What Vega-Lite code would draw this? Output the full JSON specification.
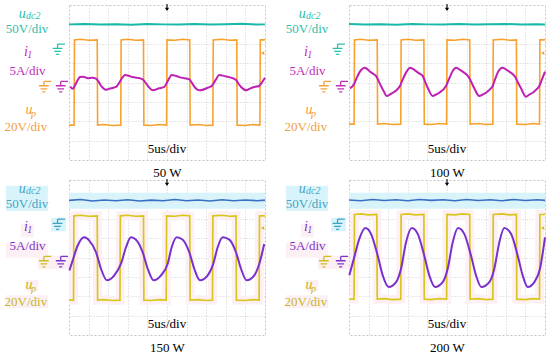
{
  "$schema": "https://vega.github.io/schema/vega-lite/v6.json",
  "padding": {"left": 4, "top": 3, "right": 2, "bottom": 2},
  "background": "white",
  "columns": 2,
  "spacing": {"row": 20, "column": 84},
  "bounds": "flush",
  "resolve": {"scale": {"x": "independent", "y": "independent"}, "axis": {"x": "independent", "y": "independent"}},
  "datasets": {
    "p1": [
      {"ch": "udc", "t": 0, "v": 3.0}, {"ch": "udc", "t": 4, "v": 3.02}, {"ch": "udc", "t": 8, "v": 2.99}, {"ch": "udc", "t": 12, "v": 3.01}, {"ch": "udc", "t": 16, "v": 2.98}, {"ch": "udc", "t": 20, "v": 3.02}, {"ch": "udc", "t": 24, "v": 3.0}, {"ch": "udc", "t": 28, "v": 2.99}, {"ch": "udc", "t": 32, "v": 3.02}, {"ch": "udc", "t": 36, "v": 2.99}, {"ch": "udc", "t": 40, "v": 3.01}, {"ch": "udc", "t": 44, "v": 3.03}, {"ch": "udc", "t": 48, "v": 2.99}, {"ch": "udc", "t": 50, "v": 3.0},
      {"ch": "up", "t": 0, "v": -2.2}, {"ch": "up", "t": 1.3, "v": -2.2}, {"ch": "up", "t": 1.4, "v": 2.2}, {"ch": "up", "t": 3, "v": 2.23}, {"ch": "up", "t": 5, "v": 2.18}, {"ch": "up", "t": 7.2, "v": 2.2}, {"ch": "up", "t": 7.3, "v": -2.2}, {"ch": "up", "t": 9, "v": -2.17}, {"ch": "up", "t": 11, "v": -2.22}, {"ch": "up", "t": 13.2, "v": -2.2}, {"ch": "up", "t": 13.3, "v": 2.2}, {"ch": "up", "t": 15, "v": 2.23}, {"ch": "up", "t": 17, "v": 2.18}, {"ch": "up", "t": 19.0, "v": 2.2}, {"ch": "up", "t": 19.1, "v": -2.2}, {"ch": "up", "t": 21, "v": -2.22}, {"ch": "up", "t": 23, "v": -2.17}, {"ch": "up", "t": 24.9, "v": -2.2}, {"ch": "up", "t": 25.0, "v": 2.2}, {"ch": "up", "t": 27, "v": 2.18}, {"ch": "up", "t": 29, "v": 2.23}, {"ch": "up", "t": 30.8, "v": 2.2}, {"ch": "up", "t": 30.9, "v": -2.2}, {"ch": "up", "t": 33, "v": -2.17}, {"ch": "up", "t": 35, "v": -2.22}, {"ch": "up", "t": 36.7, "v": -2.2}, {"ch": "up", "t": 36.8, "v": 2.2}, {"ch": "up", "t": 39, "v": 2.23}, {"ch": "up", "t": 41, "v": 2.18}, {"ch": "up", "t": 42.8, "v": 2.2}, {"ch": "up", "t": 42.9, "v": -2.2}, {"ch": "up", "t": 45, "v": -2.22}, {"ch": "up", "t": 47, "v": -2.17}, {"ch": "up", "t": 48.7, "v": -2.2}, {"ch": "up", "t": 48.8, "v": 2.2}, {"ch": "up", "t": 50, "v": 2.2},
      {"ch": "i1", "t": 0.3, "v": -0.22}, {"ch": "i1", "t": 1.0, "v": -0.32}, {"ch": "i1", "t": 1.6, "v": -0.12}, {"ch": "i1", "t": 2.2, "v": 0.12}, {"ch": "i1", "t": 2.8, "v": 0.28}, {"ch": "i1", "t": 3.6, "v": 0.3}, {"ch": "i1", "t": 4.8, "v": 0.22}, {"ch": "i1", "t": 5.9, "v": 0.25}, {"ch": "i1", "t": 6.9, "v": 0.2}, {"ch": "i1", "t": 7.6, "v": 0.02}, {"ch": "i1", "t": 8.3, "v": -0.2}, {"ch": "i1", "t": 9.4, "v": -0.37}, {"ch": "i1", "t": 10.7, "v": -0.3}, {"ch": "i1", "t": 12.0, "v": -0.23}, {"ch": "i1", "t": 12.8, "v": -0.02}, {"ch": "i1", "t": 13.6, "v": 0.25}, {"ch": "i1", "t": 14.3, "v": 0.39}, {"ch": "i1", "t": 15.2, "v": 0.35}, {"ch": "i1", "t": 16.2, "v": 0.28}, {"ch": "i1", "t": 17.5, "v": 0.24}, {"ch": "i1", "t": 18.8, "v": 0.16}, {"ch": "i1", "t": 19.5, "v": 0.0}, {"ch": "i1", "t": 20.2, "v": -0.2}, {"ch": "i1", "t": 21.4, "v": -0.4}, {"ch": "i1", "t": 23.0, "v": -0.3}, {"ch": "i1", "t": 24.3, "v": -0.23}, {"ch": "i1", "t": 25.2, "v": 0.08}, {"ch": "i1", "t": 26.2, "v": 0.39}, {"ch": "i1", "t": 27.3, "v": 0.34}, {"ch": "i1", "t": 28.6, "v": 0.25}, {"ch": "i1", "t": 30.7, "v": 0.16}, {"ch": "i1", "t": 31.3, "v": 0.0}, {"ch": "i1", "t": 32.0, "v": -0.22}, {"ch": "i1", "t": 33.4, "v": -0.4}, {"ch": "i1", "t": 35.4, "v": -0.27}, {"ch": "i1", "t": 36.4, "v": -0.18}, {"ch": "i1", "t": 37.5, "v": 0.16}, {"ch": "i1", "t": 38.3, "v": 0.39}, {"ch": "i1", "t": 39.7, "v": 0.33}, {"ch": "i1", "t": 41.3, "v": 0.25}, {"ch": "i1", "t": 42.6, "v": 0.13}, {"ch": "i1", "t": 43.2, "v": -0.05}, {"ch": "i1", "t": 43.9, "v": -0.23}, {"ch": "i1", "t": 45.2, "v": -0.4}, {"ch": "i1", "t": 46.3, "v": -0.3}, {"ch": "i1", "t": 47.3, "v": -0.23}, {"ch": "i1", "t": 48.5, "v": -0.18}, {"ch": "i1", "t": 49.2, "v": 0.0}, {"ch": "i1", "t": 50, "v": 0.25}
    ],
    "p2": [
      {"ch": "udc", "t": 0, "v": 3.02}, {"ch": "udc", "t": 4, "v": 2.99}, {"ch": "udc", "t": 8, "v": 3.01}, {"ch": "udc", "t": 12, "v": 2.98}, {"ch": "udc", "t": 16, "v": 3.02}, {"ch": "udc", "t": 20, "v": 3.0}, {"ch": "udc", "t": 24, "v": 2.99}, {"ch": "udc", "t": 28, "v": 3.02}, {"ch": "udc", "t": 32, "v": 2.99}, {"ch": "udc", "t": 36, "v": 3.01}, {"ch": "udc", "t": 40, "v": 3.02}, {"ch": "udc", "t": 44, "v": 2.99}, {"ch": "udc", "t": 48, "v": 3.01}, {"ch": "udc", "t": 50, "v": 2.99},
      {"ch": "up", "t": 0, "v": -2.15}, {"ch": "up", "t": 1.3, "v": -2.15}, {"ch": "up", "t": 1.4, "v": 2.2}, {"ch": "up", "t": 3, "v": 2.23}, {"ch": "up", "t": 5, "v": 2.18}, {"ch": "up", "t": 7.2, "v": 2.2}, {"ch": "up", "t": 7.3, "v": -2.15}, {"ch": "up", "t": 9, "v": -2.12}, {"ch": "up", "t": 11, "v": -2.17}, {"ch": "up", "t": 13.2, "v": -2.15}, {"ch": "up", "t": 13.3, "v": 2.2}, {"ch": "up", "t": 15, "v": 2.23}, {"ch": "up", "t": 17, "v": 2.18}, {"ch": "up", "t": 19.1, "v": 2.2}, {"ch": "up", "t": 19.2, "v": -2.15}, {"ch": "up", "t": 21, "v": -2.17}, {"ch": "up", "t": 23, "v": -2.12}, {"ch": "up", "t": 24.9, "v": -2.15}, {"ch": "up", "t": 25.0, "v": 2.2}, {"ch": "up", "t": 27, "v": 2.18}, {"ch": "up", "t": 29, "v": 2.23}, {"ch": "up", "t": 30.8, "v": 2.2}, {"ch": "up", "t": 30.9, "v": -2.15}, {"ch": "up", "t": 33, "v": -2.12}, {"ch": "up", "t": 35, "v": -2.17}, {"ch": "up", "t": 36.7, "v": -2.15}, {"ch": "up", "t": 36.8, "v": 2.2}, {"ch": "up", "t": 39, "v": 2.23}, {"ch": "up", "t": 41, "v": 2.18}, {"ch": "up", "t": 42.7, "v": 2.2}, {"ch": "up", "t": 42.8, "v": -2.15}, {"ch": "up", "t": 45, "v": -2.17}, {"ch": "up", "t": 47, "v": -2.12}, {"ch": "up", "t": 48.6, "v": -2.15}, {"ch": "up", "t": 48.7, "v": 2.2}, {"ch": "up", "t": 50, "v": 2.2},
      {"ch": "i1", "t": 0.26, "v": -0.3}, {"ch": "i1", "t": 1.35, "v": -0.06}, {"ch": "i1", "t": 2.0, "v": 0.25}, {"ch": "i1", "t": 2.63, "v": 0.51}, {"ch": "i1", "t": 3.3, "v": 0.68}, {"ch": "i1", "t": 3.9, "v": 0.76}, {"ch": "i1", "t": 4.6, "v": 0.7}, {"ch": "i1", "t": 5.18, "v": 0.59}, {"ch": "i1", "t": 6.0, "v": 0.47}, {"ch": "i1", "t": 6.89, "v": 0.34}, {"ch": "i1", "t": 7.5, "v": 0.1}, {"ch": "i1", "t": 8.16, "v": -0.18}, {"ch": "i1", "t": 8.9, "v": -0.47}, {"ch": "i1", "t": 9.62, "v": -0.7}, {"ch": "i1", "t": 10.4, "v": -0.63}, {"ch": "i1", "t": 11.15, "v": -0.53}, {"ch": "i1", "t": 12.1, "v": -0.4}, {"ch": "i1", "t": 13.0, "v": -0.18}, {"ch": "i1", "t": 13.8, "v": 0.2}, {"ch": "i1", "t": 14.54, "v": 0.51}, {"ch": "i1", "t": 15.64, "v": 0.76}, {"ch": "i1", "t": 16.3, "v": 0.7}, {"ch": "i1", "t": 17.09, "v": 0.59}, {"ch": "i1", "t": 18.0, "v": 0.46}, {"ch": "i1", "t": 18.8, "v": 0.34}, {"ch": "i1", "t": 19.4, "v": 0.05}, {"ch": "i1", "t": 20.08, "v": -0.27}, {"ch": "i1", "t": 21.35, "v": -0.7}, {"ch": "i1", "t": 22.2, "v": -0.62}, {"ch": "i1", "t": 23.04, "v": -0.53}, {"ch": "i1", "t": 24.74, "v": -0.18}, {"ch": "i1", "t": 25.6, "v": 0.22}, {"ch": "i1", "t": 26.45, "v": 0.59}, {"ch": "i1", "t": 27.3, "v": 0.76}, {"ch": "i1", "t": 28.1, "v": 0.68}, {"ch": "i1", "t": 29.0, "v": 0.56}, {"ch": "i1", "t": 30.54, "v": 0.28}, {"ch": "i1", "t": 31.2, "v": 0.02}, {"ch": "i1", "t": 31.96, "v": -0.3}, {"ch": "i1", "t": 33.24, "v": -0.7}, {"ch": "i1", "t": 34.1, "v": -0.62}, {"ch": "i1", "t": 34.95, "v": -0.53}, {"ch": "i1", "t": 35.8, "v": -0.38}, {"ch": "i1", "t": 36.66, "v": -0.18}, {"ch": "i1", "t": 37.3, "v": 0.18}, {"ch": "i1", "t": 37.93, "v": 0.51}, {"ch": "i1", "t": 39.2, "v": 0.76}, {"ch": "i1", "t": 40.0, "v": 0.68}, {"ch": "i1", "t": 40.9, "v": 0.56}, {"ch": "i1", "t": 42.42, "v": 0.28}, {"ch": "i1", "t": 43.1, "v": 0.0}, {"ch": "i1", "t": 43.88, "v": -0.3}, {"ch": "i1", "t": 45.15, "v": -0.73}, {"ch": "i1", "t": 46.0, "v": -0.62}, {"ch": "i1", "t": 46.86, "v": -0.53}, {"ch": "i1", "t": 47.7, "v": -0.38}, {"ch": "i1", "t": 48.55, "v": -0.18}, {"ch": "i1", "t": 49.3, "v": 0.2}, {"ch": "i1", "t": 50, "v": 0.56}
    ],
    "p3": [
      {"ch": "udc", "t": 0, "v": 2.95}, {"ch": "udc", "t": 3, "v": 2.99}, {"ch": "udc", "t": 6, "v": 2.92}, {"ch": "udc", "t": 9, "v": 2.97}, {"ch": "udc", "t": 12, "v": 2.93}, {"ch": "udc", "t": 15, "v": 2.98}, {"ch": "udc", "t": 18, "v": 2.92}, {"ch": "udc", "t": 21, "v": 2.96}, {"ch": "udc", "t": 24, "v": 2.93}, {"ch": "udc", "t": 27, "v": 2.99}, {"ch": "udc", "t": 30, "v": 2.93}, {"ch": "udc", "t": 33, "v": 2.97}, {"ch": "udc", "t": 36, "v": 2.92}, {"ch": "udc", "t": 39, "v": 2.98}, {"ch": "udc", "t": 42, "v": 2.93}, {"ch": "udc", "t": 45, "v": 2.97}, {"ch": "udc", "t": 48, "v": 2.93}, {"ch": "udc", "t": 50, "v": 2.96},
      {"ch": "up", "t": 0, "v": -2.2}, {"ch": "up", "t": 1.15, "v": -2.2}, {"ch": "up", "t": 1.25, "v": 2.15}, {"ch": "up", "t": 3, "v": 2.18}, {"ch": "up", "t": 5, "v": 2.13}, {"ch": "up", "t": 7.2, "v": 2.15}, {"ch": "up", "t": 7.3, "v": -2.2}, {"ch": "up", "t": 9, "v": -2.17}, {"ch": "up", "t": 11, "v": -2.22}, {"ch": "up", "t": 13.0, "v": -2.2}, {"ch": "up", "t": 13.1, "v": 2.15}, {"ch": "up", "t": 15, "v": 2.18}, {"ch": "up", "t": 17, "v": 2.13}, {"ch": "up", "t": 19.0, "v": 2.15}, {"ch": "up", "t": 19.1, "v": -2.2}, {"ch": "up", "t": 21, "v": -2.22}, {"ch": "up", "t": 23, "v": -2.17}, {"ch": "up", "t": 24.8, "v": -2.2}, {"ch": "up", "t": 24.9, "v": 2.15}, {"ch": "up", "t": 27, "v": 2.13}, {"ch": "up", "t": 29, "v": 2.18}, {"ch": "up", "t": 30.8, "v": 2.15}, {"ch": "up", "t": 30.9, "v": -2.2}, {"ch": "up", "t": 33, "v": -2.17}, {"ch": "up", "t": 35, "v": -2.22}, {"ch": "up", "t": 36.6, "v": -2.2}, {"ch": "up", "t": 36.7, "v": 2.15}, {"ch": "up", "t": 39, "v": 2.18}, {"ch": "up", "t": 41, "v": 2.13}, {"ch": "up", "t": 42.6, "v": 2.15}, {"ch": "up", "t": 42.7, "v": -2.2}, {"ch": "up", "t": 45, "v": -2.22}, {"ch": "up", "t": 47, "v": -2.17}, {"ch": "up", "t": 48.5, "v": -2.2}, {"ch": "up", "t": 48.6, "v": 2.15}, {"ch": "up", "t": 50, "v": 2.15},
      {"ch": "i1", "t": 0.1, "v": -0.67}, {"ch": "i1", "t": 0.94, "v": -0.15}, {"ch": "i1", "t": 2.22, "v": 0.62}, {"ch": "i1", "t": 3.9, "v": 1.04}, {"ch": "i1", "t": 5.18, "v": 0.87}, {"ch": "i1", "t": 6.89, "v": 0.27}, {"ch": "i1", "t": 8.16, "v": -0.58}, {"ch": "i1", "t": 9.69, "v": -1.18}, {"ch": "i1", "t": 11.56, "v": -0.92}, {"ch": "i1", "t": 13.27, "v": -0.32}, {"ch": "i1", "t": 14.54, "v": 0.53}, {"ch": "i1", "t": 15.82, "v": 1.04}, {"ch": "i1", "t": 17.09, "v": 0.92}, {"ch": "i1", "t": 18.8, "v": 0.27}, {"ch": "i1", "t": 20.08, "v": -0.58}, {"ch": "i1", "t": 21.6, "v": -1.18}, {"ch": "i1", "t": 23.47, "v": -0.92}, {"ch": "i1", "t": 25.18, "v": -0.32}, {"ch": "i1", "t": 26.2, "v": 0.53}, {"ch": "i1", "t": 27.47, "v": 1.04}, {"ch": "i1", "t": 29.0, "v": 0.92}, {"ch": "i1", "t": 30.69, "v": 0.27}, {"ch": "i1", "t": 31.96, "v": -0.58}, {"ch": "i1", "t": 33.42, "v": -1.18}, {"ch": "i1", "t": 35.38, "v": -0.92}, {"ch": "i1", "t": 36.81, "v": -0.32}, {"ch": "i1", "t": 37.93, "v": 0.53}, {"ch": "i1", "t": 39.2, "v": 1.04}, {"ch": "i1", "t": 40.9, "v": 0.92}, {"ch": "i1", "t": 42.6, "v": 0.27}, {"ch": "i1", "t": 43.88, "v": -0.58}, {"ch": "i1", "t": 45.33, "v": -1.18}, {"ch": "i1", "t": 47.27, "v": -0.92}, {"ch": "i1", "t": 48.55, "v": -0.32}, {"ch": "i1", "t": 49.8, "v": 0.7}
    ],
    "p4": [
      {"ch": "udc", "t": 0, "v": 2.97}, {"ch": "udc", "t": 3, "v": 2.93}, {"ch": "udc", "t": 6, "v": 2.99}, {"ch": "udc", "t": 9, "v": 2.94}, {"ch": "udc", "t": 12, "v": 2.98}, {"ch": "udc", "t": 15, "v": 2.93}, {"ch": "udc", "t": 18, "v": 2.99}, {"ch": "udc", "t": 21, "v": 2.95}, {"ch": "udc", "t": 24, "v": 2.98}, {"ch": "udc", "t": 27, "v": 2.93}, {"ch": "udc", "t": 30, "v": 2.99}, {"ch": "udc", "t": 33, "v": 2.94}, {"ch": "udc", "t": 36, "v": 2.98}, {"ch": "udc", "t": 39, "v": 2.93}, {"ch": "udc", "t": 42, "v": 2.99}, {"ch": "udc", "t": 45, "v": 2.94}, {"ch": "udc", "t": 48, "v": 2.98}, {"ch": "udc", "t": 50, "v": 2.95},
      {"ch": "up", "t": 0, "v": -2.15}, {"ch": "up", "t": 1.3, "v": -2.15}, {"ch": "up", "t": 1.4, "v": 2.22}, {"ch": "up", "t": 3, "v": 2.25}, {"ch": "up", "t": 5, "v": 2.2}, {"ch": "up", "t": 7.1, "v": 2.22}, {"ch": "up", "t": 7.2, "v": -2.15}, {"ch": "up", "t": 9, "v": -2.12}, {"ch": "up", "t": 11, "v": -2.17}, {"ch": "up", "t": 13.2, "v": -2.15}, {"ch": "up", "t": 13.3, "v": 2.22}, {"ch": "up", "t": 15, "v": 2.25}, {"ch": "up", "t": 17, "v": 2.2}, {"ch": "up", "t": 19.1, "v": 2.22}, {"ch": "up", "t": 19.2, "v": -2.15}, {"ch": "up", "t": 21, "v": -2.17}, {"ch": "up", "t": 23, "v": -2.12}, {"ch": "up", "t": 24.9, "v": -2.15}, {"ch": "up", "t": 25.0, "v": 2.22}, {"ch": "up", "t": 27, "v": 2.2}, {"ch": "up", "t": 29, "v": 2.25}, {"ch": "up", "t": 30.8, "v": 2.22}, {"ch": "up", "t": 30.9, "v": -2.15}, {"ch": "up", "t": 33, "v": -2.12}, {"ch": "up", "t": 35, "v": -2.17}, {"ch": "up", "t": 36.7, "v": -2.15}, {"ch": "up", "t": 36.8, "v": 2.22}, {"ch": "up", "t": 39, "v": 2.25}, {"ch": "up", "t": 41, "v": 2.2}, {"ch": "up", "t": 42.7, "v": 2.22}, {"ch": "up", "t": 42.8, "v": -2.15}, {"ch": "up", "t": 45, "v": -2.17}, {"ch": "up", "t": 47, "v": -2.12}, {"ch": "up", "t": 48.6, "v": -2.15}, {"ch": "up", "t": 48.7, "v": 2.22}, {"ch": "up", "t": 50, "v": 2.22},
      {"ch": "i1", "t": 0.08, "v": -0.92}, {"ch": "i1", "t": 1.35, "v": 0.02}, {"ch": "i1", "t": 2.63, "v": 0.96}, {"ch": "i1", "t": 4.16, "v": 1.52}, {"ch": "i1", "t": 5.61, "v": 1.22}, {"ch": "i1", "t": 7.32, "v": 0.1}, {"ch": "i1", "t": 8.6, "v": -0.92}, {"ch": "i1", "t": 10.13, "v": -1.52}, {"ch": "i1", "t": 12.0, "v": -1.27}, {"ch": "i1", "t": 13.27, "v": -0.58}, {"ch": "i1", "t": 14.54, "v": 0.78}, {"ch": "i1", "t": 16.0, "v": 1.52}, {"ch": "i1", "t": 17.53, "v": 1.22}, {"ch": "i1", "t": 19.2, "v": 0.1}, {"ch": "i1", "t": 20.48, "v": -0.92}, {"ch": "i1", "t": 21.94, "v": -1.52}, {"ch": "i1", "t": 23.9, "v": -1.27}, {"ch": "i1", "t": 25.18, "v": -0.58}, {"ch": "i1", "t": 26.45, "v": 0.78}, {"ch": "i1", "t": 27.8, "v": 1.52}, {"ch": "i1", "t": 29.4, "v": 1.22}, {"ch": "i1", "t": 31.12, "v": 0.1}, {"ch": "i1", "t": 32.4, "v": -0.92}, {"ch": "i1", "t": 33.75, "v": -1.52}, {"ch": "i1", "t": 35.8, "v": -1.27}, {"ch": "i1", "t": 37.07, "v": -0.58}, {"ch": "i1", "t": 38.34, "v": 0.78}, {"ch": "i1", "t": 39.62, "v": 1.52}, {"ch": "i1", "t": 41.33, "v": 1.22}, {"ch": "i1", "t": 43.03, "v": 0.1}, {"ch": "i1", "t": 44.3, "v": -0.92}, {"ch": "i1", "t": 45.59, "v": -1.52}, {"ch": "i1", "t": 47.27, "v": -1.27}, {"ch": "i1", "t": 48.72, "v": -0.58}, {"ch": "i1", "t": 50, "v": 1.04}
    ],
    "lbl_main": [
      {"ch": "udc", "t": -10.7, "v": 2.78, "txt": "50V/div"},
      {"ch": "i1", "t": -10.6, "v": 0.57, "txt": "5A/div"},
      {"ch": "up", "t": -11.0, "v": -2.32, "txt": "20V/div"},
      {"ch": "k", "t": 25, "v": -3.43, "txt": "5us/div"}
    ],
    "lbl_it": [
      {"ch": "udc", "t": -11.9, "v": 3.56, "txt": "u"},
      {"ch": "i1", "t": -11.0, "v": 1.55, "txt": "i"},
      {"ch": "up", "t": -10.2, "v": -1.42, "txt": "u"}
    ],
    "lbl_sub": [
      {"ch": "udc", "t": -9.1, "v": 3.42, "txt": "dc2"},
      {"ch": "i1", "t": -10.0, "v": 1.43, "txt": "1"},
      {"ch": "up", "t": -9.05, "v": -1.6, "txt": "p"}
    ],
    "gnd": [
      {"ch": "udc", "t": -2.6, "v": 1.7},
      {"ch": "up", "t": -6.1, "v": -0.23},
      {"ch": "i1", "t": -1.8, "v": -0.23}
    ],
    "trig": [{"ch": "k", "t": 25, "v": 3.87}],
    "lvl": [{"ch": "up", "t": 49.4, "v": 1.52}],
    "hl": [
      {"ch": "cy", "t": 0, "t2": 50, "v": 2.52, "v2": 3.34},
      {"ch": "cy", "t": -16.1, "t2": -5.4, "v": 2.4, "v2": 3.7},
      {"ch": "cy", "t": -4.6, "t2": -0.8, "v": 1.35, "v2": 2.05},
      {"ch": "pk", "t": -12.3, "t2": -9.0, "v": 1.05, "v2": 1.75},
      {"ch": "pk", "t": -16.1, "t2": -5.4, "v": 0.0, "v2": 0.75},
      {"ch": "pk", "t": -7.9, "t2": 0, "v": -0.6, "v2": 0.1},
      {"ch": "pk", "t": -11.2, "t2": -7.8, "v": -1.75, "v2": -1.15},
      {"ch": "pk", "t": -16.1, "t2": -5.4, "v": -2.6, "v2": -1.95}
    ]
  },
  "concat": [
    {
      "width": 196, "height": 155,
      "encoding": {
        "x": {"field": "t", "type": "quantitative", "title": "50 W", "scale": {"domain": [0, 50], "nice": false, "zero": false}, "axis": {"values": [5, 10, 15, 20, 25, 30, 35, 40, 45]}},
        "y": {"field": "v", "type": "quantitative", "title": null, "scale": {"domain": [-4, 4], "nice": false, "zero": false}, "axis": {"values": [-3, -2, -1, 0, 1, 2, 3]}}
      },
      "layer": [
        {"data": {"name": "p1"}, "transform": [{"filter": "datum.ch == 'up'"}], "mark": {"type": "line", "color": "#f7a22e", "strokeWidth": 1.6}, "encoding": {}},
        {"data": {"name": "p1"}, "transform": [{"filter": "datum.ch == 'udc'"}], "mark": {"type": "line", "color": "#18b9a8", "strokeWidth": 2}, "encoding": {}},
        {"data": {"name": "p1"}, "transform": [{"filter": "datum.ch == 'i1'"}], "mark": {"type": "line", "color": "#bf1fb4", "strokeWidth": 2, "interpolate": "monotone"}, "encoding": {}},
        {"data": {"name": "gnd"}, "mark": {"type": "point", "shape": "M-0.2,-0.9 L1,-0.9 M-0.2,-0.9 L-0.2,-0.2 M-1,-0.2 L0.6,-0.2 M-0.75,0.3 L0.35,0.3 M-0.45,0.8 L0.05,0.8", "filled": false, "strokeWidth": 1.3, "size": 150, "opacity": 1},
          "encoding": {"color": {"condition": [{"test": "datum.ch == 'udc'", "value": "#2dbfad"}, {"test": "datum.ch == 'i1'", "value": "#c22bb7"}, {"test": "datum.ch == 'up'", "value": "#f2a03c"}], "value": "#000000"}}},
        {"data": {"name": "trig"}, "mark": {"type": "point", "shape": "M-0.15,-1 L0.15,-1 L0.15,0.1 L0.6,0.1 L0,1 L-0.6,0.1 L-0.15,0.1 Z", "filled": true, "color": "#000000", "size": 50, "opacity": 1}, "encoding": {}},
        {"data": {"name": "lvl"}, "mark": {"type": "point", "shape": "triangle-left", "filled": true, "color": "#f2a03c", "size": 14, "opacity": 1}, "encoding": {}},
        {"data": {"name": "lbl_main"}, "mark": {"type": "text", "font": "Liberation Serif", "fontSize": 13, "align": "center", "baseline": "middle"},
          "encoding": {"text": {"field": "txt"}, "color": {"condition": [{"test": "datum.ch == 'udc'", "value": "#2dbfad"}, {"test": "datum.ch == 'i1'", "value": "#c22bb7"}, {"test": "datum.ch == 'up'", "value": "#f2a03c"}], "value": "#000000"}}},
        {"data": {"name": "lbl_it"}, "mark": {"type": "text", "font": "Liberation Serif", "fontSize": 14, "fontStyle": "italic", "align": "center", "baseline": "middle"},
          "encoding": {"text": {"field": "txt"}, "color": {"condition": [{"test": "datum.ch == 'udc'", "value": "#2dbfad"}, {"test": "datum.ch == 'i1'", "value": "#c22bb7"}, {"test": "datum.ch == 'up'", "value": "#f2a03c"}], "value": "#000000"}}},
        {"data": {"name": "lbl_sub"}, "mark": {"type": "text", "font": "Liberation Serif", "fontSize": 10, "fontStyle": "italic", "align": "center", "baseline": "middle"},
          "encoding": {"text": {"field": "txt"}, "color": {"condition": [{"test": "datum.ch == 'udc'", "value": "#2dbfad"}, {"test": "datum.ch == 'i1'", "value": "#c22bb7"}, {"test": "datum.ch == 'up'", "value": "#f2a03c"}], "value": "#000000"}}}
      ]
    },
    {
      "width": 196, "height": 155,
      "encoding": {
        "x": {"field": "t", "type": "quantitative", "title": "100 W", "scale": {"domain": [0, 50], "nice": false, "zero": false}, "axis": {"values": [5, 10, 15, 20, 25, 30, 35, 40, 45]}},
        "y": {"field": "v", "type": "quantitative", "title": null, "scale": {"domain": [-4, 4], "nice": false, "zero": false}, "axis": {"values": [-3, -2, -1, 0, 1, 2, 3]}}
      },
      "layer": [
        {"data": {"name": "p2"}, "transform": [{"filter": "datum.ch == 'up'"}], "mark": {"type": "line", "color": "#f7a22e", "strokeWidth": 1.6}, "encoding": {}},
        {"data": {"name": "p2"}, "transform": [{"filter": "datum.ch == 'udc'"}], "mark": {"type": "line", "color": "#18b9a8", "strokeWidth": 2}, "encoding": {}},
        {"data": {"name": "p2"}, "transform": [{"filter": "datum.ch == 'i1'"}], "mark": {"type": "line", "color": "#bf1fb4", "strokeWidth": 2, "interpolate": "monotone"}, "encoding": {}},
        {"data": {"name": "gnd"}, "mark": {"type": "point", "shape": "M-0.2,-0.9 L1,-0.9 M-0.2,-0.9 L-0.2,-0.2 M-1,-0.2 L0.6,-0.2 M-0.75,0.3 L0.35,0.3 M-0.45,0.8 L0.05,0.8", "filled": false, "strokeWidth": 1.3, "size": 150, "opacity": 1},
          "encoding": {"color": {"condition": [{"test": "datum.ch == 'udc'", "value": "#2dbfad"}, {"test": "datum.ch == 'i1'", "value": "#c22bb7"}, {"test": "datum.ch == 'up'", "value": "#f2a03c"}], "value": "#000000"}}},
        {"data": {"name": "trig"}, "mark": {"type": "point", "shape": "M-0.15,-1 L0.15,-1 L0.15,0.1 L0.6,0.1 L0,1 L-0.6,0.1 L-0.15,0.1 Z", "filled": true, "color": "#000000", "size": 50, "opacity": 1}, "encoding": {}},
        {"data": {"name": "lvl"}, "mark": {"type": "point", "shape": "triangle-left", "filled": true, "color": "#f2a03c", "size": 14, "opacity": 1}, "encoding": {}},
        {"data": {"name": "lbl_main"}, "mark": {"type": "text", "font": "Liberation Serif", "fontSize": 13, "align": "center", "baseline": "middle"},
          "encoding": {"text": {"field": "txt"}, "color": {"condition": [{"test": "datum.ch == 'udc'", "value": "#2dbfad"}, {"test": "datum.ch == 'i1'", "value": "#c22bb7"}, {"test": "datum.ch == 'up'", "value": "#f2a03c"}], "value": "#000000"}}},
        {"data": {"name": "lbl_it"}, "mark": {"type": "text", "font": "Liberation Serif", "fontSize": 14, "fontStyle": "italic", "align": "center", "baseline": "middle"},
          "encoding": {"text": {"field": "txt"}, "color": {"condition": [{"test": "datum.ch == 'udc'", "value": "#2dbfad"}, {"test": "datum.ch == 'i1'", "value": "#c22bb7"}, {"test": "datum.ch == 'up'", "value": "#f2a03c"}], "value": "#000000"}}},
        {"data": {"name": "lbl_sub"}, "mark": {"type": "text", "font": "Liberation Serif", "fontSize": 10, "fontStyle": "italic", "align": "center", "baseline": "middle"},
          "encoding": {"text": {"field": "txt"}, "color": {"condition": [{"test": "datum.ch == 'udc'", "value": "#2dbfad"}, {"test": "datum.ch == 'i1'", "value": "#c22bb7"}, {"test": "datum.ch == 'up'", "value": "#f2a03c"}], "value": "#000000"}}}
      ]
    },
    {
      "width": 196, "height": 155,
      "encoding": {
        "x": {"field": "t", "type": "quantitative", "title": "150 W", "scale": {"domain": [0, 50], "nice": false, "zero": false}, "axis": {"values": [5, 10, 15, 20, 25, 30, 35, 40, 45]}},
        "y": {"field": "v", "type": "quantitative", "title": null, "scale": {"domain": [-4, 4], "nice": false, "zero": false}, "axis": {"values": [-3, -2, -1, 0, 1, 2, 3]}}
      },
      "layer": [
        {"data": {"name": "hl"}, "mark": {"type": "rect", "opacity": 1},
          "encoding": {"x2": {"field": "t2"}, "y2": {"field": "v2"}, "color": {"condition": [{"test": "datum.ch == 'cy'", "value": "#d8f4fa"}], "value": "#fdf0f5"}}},
        {"data": {"name": "p3"}, "transform": [{"filter": "datum.ch == 'up'"}], "mark": {"type": "line", "color": "#fdf0f5", "strokeWidth": 9}, "encoding": {}},
        {"data": {"name": "p3"}, "transform": [{"filter": "datum.ch == 'up'"}], "mark": {"type": "line", "color": "#d9c61a", "strokeWidth": 1.7}, "encoding": {}},
        {"data": {"name": "p3"}, "transform": [{"filter": "datum.ch == 'udc'"}], "mark": {"type": "line", "color": "#3b6ec2", "strokeWidth": 1.6}, "encoding": {}},
        {"data": {"name": "p3"}, "transform": [{"filter": "datum.ch == 'i1'"}], "mark": {"type": "line", "color": "#7a2fce", "strokeWidth": 2, "interpolate": "monotone"}, "encoding": {}},
        {"data": {"name": "gnd"}, "mark": {"type": "point", "shape": "M-0.2,-0.9 L1,-0.9 M-0.2,-0.9 L-0.2,-0.2 M-1,-0.2 L0.6,-0.2 M-0.75,0.3 L0.35,0.3 M-0.45,0.8 L0.05,0.8", "filled": false, "strokeWidth": 1.3, "size": 150, "opacity": 1},
          "encoding": {"color": {"condition": [{"test": "datum.ch == 'udc'", "value": "#3fa0c8"}, {"test": "datum.ch == 'i1'", "value": "#7d36c9"}, {"test": "datum.ch == 'up'", "value": "#d0bc1c"}], "value": "#000000"}}},
        {"data": {"name": "trig"}, "mark": {"type": "point", "shape": "M-0.15,-1 L0.15,-1 L0.15,0.1 L0.6,0.1 L0,1 L-0.6,0.1 L-0.15,0.1 Z", "filled": true, "color": "#000000", "size": 50, "opacity": 1}, "encoding": {}},
        {"data": {"name": "lvl"}, "mark": {"type": "point", "shape": "triangle-left", "filled": true, "color": "#d0bc1c", "size": 14, "opacity": 1}, "encoding": {}},
        {"data": {"name": "lbl_main"}, "mark": {"type": "text", "font": "Liberation Serif", "fontSize": 13, "align": "center", "baseline": "middle"},
          "encoding": {"text": {"field": "txt"}, "color": {"condition": [{"test": "datum.ch == 'udc'", "value": "#45a6c6"}, {"test": "datum.ch == 'i1'", "value": "#7d36c9"}, {"test": "datum.ch == 'up'", "value": "#c9b620"}], "value": "#000000"}}},
        {"data": {"name": "lbl_it"}, "mark": {"type": "text", "font": "Liberation Serif", "fontSize": 14, "fontStyle": "italic", "align": "center", "baseline": "middle"},
          "encoding": {"text": {"field": "txt"}, "color": {"condition": [{"test": "datum.ch == 'udc'", "value": "#45a6c6"}, {"test": "datum.ch == 'i1'", "value": "#7d36c9"}, {"test": "datum.ch == 'up'", "value": "#c9b620"}], "value": "#000000"}}},
        {"data": {"name": "lbl_sub"}, "mark": {"type": "text", "font": "Liberation Serif", "fontSize": 10, "fontStyle": "italic", "align": "center", "baseline": "middle"},
          "encoding": {"text": {"field": "txt"}, "color": {"condition": [{"test": "datum.ch == 'udc'", "value": "#45a6c6"}, {"test": "datum.ch == 'i1'", "value": "#7d36c9"}, {"test": "datum.ch == 'up'", "value": "#c9b620"}], "value": "#000000"}}}
      ]
    },
    {
      "width": 196, "height": 155,
      "encoding": {
        "x": {"field": "t", "type": "quantitative", "title": "200 W", "scale": {"domain": [0, 50], "nice": false, "zero": false}, "axis": {"values": [5, 10, 15, 20, 25, 30, 35, 40, 45]}},
        "y": {"field": "v", "type": "quantitative", "title": null, "scale": {"domain": [-4, 4], "nice": false, "zero": false}, "axis": {"values": [-3, -2, -1, 0, 1, 2, 3]}}
      },
      "layer": [
        {"data": {"name": "hl"}, "mark": {"type": "rect", "opacity": 1},
          "encoding": {"x2": {"field": "t2"}, "y2": {"field": "v2"}, "color": {"condition": [{"test": "datum.ch == 'cy'", "value": "#d8f4fa"}], "value": "#fdf0f5"}}},
        {"data": {"name": "p4"}, "transform": [{"filter": "datum.ch == 'up'"}], "mark": {"type": "line", "color": "#fdf0f5", "strokeWidth": 9}, "encoding": {}},
        {"data": {"name": "p4"}, "transform": [{"filter": "datum.ch == 'up'"}], "mark": {"type": "line", "color": "#d9c61a", "strokeWidth": 1.7}, "encoding": {}},
        {"data": {"name": "p4"}, "transform": [{"filter": "datum.ch == 'udc'"}], "mark": {"type": "line", "color": "#3b6ec2", "strokeWidth": 1.6}, "encoding": {}},
        {"data": {"name": "p4"}, "transform": [{"filter": "datum.ch == 'i1'"}], "mark": {"type": "line", "color": "#7a2fce", "strokeWidth": 2, "interpolate": "monotone"}, "encoding": {}},
        {"data": {"name": "gnd"}, "mark": {"type": "point", "shape": "M-0.2,-0.9 L1,-0.9 M-0.2,-0.9 L-0.2,-0.2 M-1,-0.2 L0.6,-0.2 M-0.75,0.3 L0.35,0.3 M-0.45,0.8 L0.05,0.8", "filled": false, "strokeWidth": 1.3, "size": 150, "opacity": 1},
          "encoding": {"color": {"condition": [{"test": "datum.ch == 'udc'", "value": "#3fa0c8"}, {"test": "datum.ch == 'i1'", "value": "#7d36c9"}, {"test": "datum.ch == 'up'", "value": "#d0bc1c"}], "value": "#000000"}}},
        {"data": {"name": "trig"}, "mark": {"type": "point", "shape": "M-0.15,-1 L0.15,-1 L0.15,0.1 L0.6,0.1 L0,1 L-0.6,0.1 L-0.15,0.1 Z", "filled": true, "color": "#000000", "size": 50, "opacity": 1}, "encoding": {}},
        {"data": {"name": "lvl"}, "mark": {"type": "point", "shape": "triangle-left", "filled": true, "color": "#d0bc1c", "size": 14, "opacity": 1}, "encoding": {}},
        {"data": {"name": "lbl_main"}, "mark": {"type": "text", "font": "Liberation Serif", "fontSize": 13, "align": "center", "baseline": "middle"},
          "encoding": {"text": {"field": "txt"}, "color": {"condition": [{"test": "datum.ch == 'udc'", "value": "#45a6c6"}, {"test": "datum.ch == 'i1'", "value": "#7d36c9"}, {"test": "datum.ch == 'up'", "value": "#c9b620"}], "value": "#000000"}}},
        {"data": {"name": "lbl_it"}, "mark": {"type": "text", "font": "Liberation Serif", "fontSize": 14, "fontStyle": "italic", "align": "center", "baseline": "middle"},
          "encoding": {"text": {"field": "txt"}, "color": {"condition": [{"test": "datum.ch == 'udc'", "value": "#45a6c6"}, {"test": "datum.ch == 'i1'", "value": "#7d36c9"}, {"test": "datum.ch == 'up'", "value": "#c9b620"}], "value": "#000000"}}},
        {"data": {"name": "lbl_sub"}, "mark": {"type": "text", "font": "Liberation Serif", "fontSize": 10, "fontStyle": "italic", "align": "center", "baseline": "middle"},
          "encoding": {"text": {"field": "txt"}, "color": {"condition": [{"test": "datum.ch == 'udc'", "value": "#45a6c6"}, {"test": "datum.ch == 'i1'", "value": "#7d36c9"}, {"test": "datum.ch == 'up'", "value": "#c9b620"}], "value": "#000000"}}}
      ]
    }
  ],
  "config": {
    "font": "Liberation Serif",
    "view": {"stroke": "#c4c4c4", "strokeDash": [2, 2], "strokeWidth": 1},
    "axis": {"grid": true, "gridColor": "#cfcfcf", "gridDash": [1, 2], "gridWidth": 1, "labels": false, "ticks": false, "domain": false, "titleFont": "Liberation Serif", "titleFontSize": 13, "titleFontWeight": "normal", "titleColor": "#000000", "titlePadding": 6},
    "text": {"font": "Liberation Serif"}
  }
}
